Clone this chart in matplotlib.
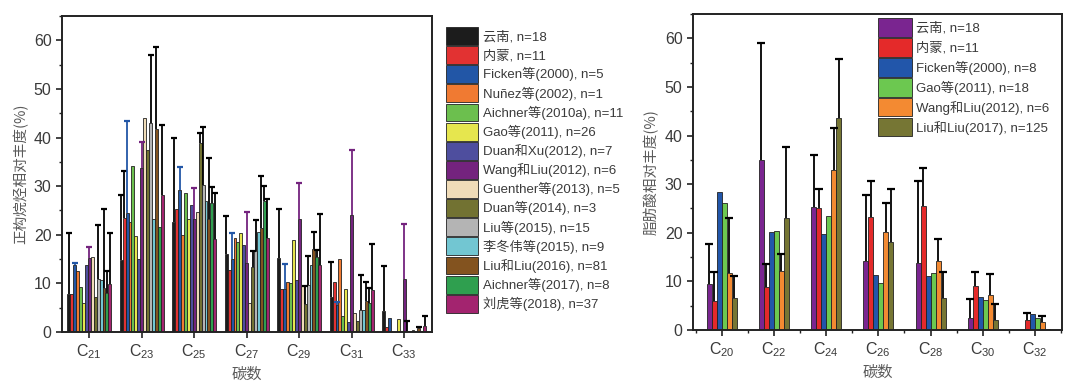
import numpy as np
import matplotlib
matplotlib.use("Agg")
import matplotlib.pyplot as plt
from matplotlib.ticker import MultipleLocator

plt.rcParams['font.family'] = ['Liberation Sans', 'Noto Sans CJK SC', 'DejaVu Sans']
plt.rcParams['mathtext.fontset'] = 'custom'
plt.rcParams['mathtext.rm'] = 'Liberation Sans'
plt.rcParams['mathtext.it'] = 'Liberation Sans:italic'

# ---------------- left panel: n-alkanes ----------------
alk_cats = ['C$_{21}$', 'C$_{23}$', 'C$_{25}$', 'C$_{27}$', 'C$_{29}$', 'C$_{31}$', 'C$_{33}$']
alk_series = ['云南, n=18', '内蒙, n=11', 'Ficken等(2000), n=5',
              'Nuñez等(2002), n=1', 'Aichner等(2010a), n=11', 'Gao等(2011), n=26',
              'Duan和Xu(2012), n=7', 'Wang和Liu(2012), n=6', 'Guenther等(2013), n=5',
              'Duan等(2014), n=3', 'Liu等(2015), n=15', '李冬伟等(2015), n=9',
              'Liu和Liu(2016), n=81', 'Aichner等(2017), n=8', '刘虎等(2018), n=37']
alk_colors = ['#1c1c1c', '#e23232', '#2256a6', '#f07a32', '#6cbf4e', '#e6e64e', '#4e4e9e',
              '#74237e', '#f0dcb8', '#727232', '#b4b4b4', '#72c6d2', '#83531f', '#2f9f4f', '#a3246f']
alk_err_colors = ['k', 'k', '#2256a6', 'k', 'k', 'k', 'k', '#74237e', 'k', 'k', 'k', 'k', 'k', 'k', 'k']

# values per series across C21..C33
alk_yunnan   = [7.8, 14.8, 22.6, 16.1, 15.2, 7.3, 4.3]
alk_neimeng  = [7.8, 23.5, 25.4, 12.8, 8.8, 10.3, 1.0]
alk_ficken   = [13.8, 24.5, 29.2, 15.0, 8.9, 5.6, 2.8]
alk_nunez    = [12.6, 22.6, 20.0, 19.4, 10.3, 15.1, 0.0]
alk_aich10   = [9.3, 34.2, 28.5, 18.6, 10.0, 3.2, 0.0]
alk_gao      = [6.0, 19.8, 23.3, 20.3, 19.0, 8.8, 2.6]
alk_duanxu   = [13.8, 15.1, 26.2, 17.8, 10.6, 2.0, 0.0]
alk_wangliu  = [15.2, 33.8, 23.3, 14.1, 23.3, 24.1, 10.8]
alk_guenther = [15.5, 44.1, 24.6, 5.9, 9.5, 4.0, 0.3]
alk_duan14   = [7.2, 37.5, 38.8, 13.3, 5.7, 2.2, 0.3]
alk_liu15    = [11.0, 43.0, 30.3, 16.6, 9.7, 4.5, 0.5]
alk_li15     = [10.7, 23.2, 27.0, 20.5, 13.7, 4.5, 0.2]
alk_liuliu16 = [9.0, 41.8, 23.3, 21.4, 17.1, 6.3, 0.8]
alk_aich17   = [8.0, 21.5, 26.5, 27.0, 15.5, 5.9, 0.3]
alk_liuhu    = [9.9, 28.1, 19.2, 19.4, 13.8, 8.6, 1.2]

# upper ends of error bars (0 = no error bar)
alk_yunnan_top   = [20.3, 28.1, 39.9, 23.8, 25.4, 14.4, 13.6]
alk_neimeng_top  = [0, 33.1, 0, 0, 0, 0, 0]
alk_ficken_top   = [14.2, 43.4, 34.0, 20.4, 14.0, 6.2, 0]
alk_nunez_top    = [0, 0, 0, 0, 0, 0, 0]
alk_aich10_top   = [0, 0, 0, 0, 0, 0, 0]
alk_gao_top      = [0, 0, 0, 0, 0, 0, 0]
alk_duanxu_top   = [0, 0, 0, 0, 0, 0, 0]
alk_wangliu_top  = [17.5, 39.1, 29.6, 24.6, 30.6, 37.4, 22.2]
alk_guenther_top = [0, 0, 0, 0, 0, 0, 2.2]
alk_duan14_top   = [0, 0, 41.0, 16.7, 9.5, 0, 0]
alk_liu15_top    = [22.0, 57.0, 42.1, 23.0, 15.6, 11.7, 0]
alk_li15_top     = [0, 0, 0, 0, 0, 0, 0]
alk_liuliu16_top = [25.3, 58.6, 35.7, 32.0, 20.6, 10.2, 1.0]
alk_aich17_top   = [12.5, 0, 29.8, 30.1, 16.8, 9.0, 0]
alk_liuhu_top    = [20.3, 42.5, 28.5, 27.4, 24.2, 18.2, 3.2]

alk_vals = [alk_yunnan, alk_neimeng, alk_ficken, alk_nunez, alk_aich10, alk_gao, alk_duanxu,
            alk_wangliu, alk_guenther, alk_duan14, alk_liu15, alk_li15, alk_liuliu16, alk_aich17, alk_liuhu]
alk_tops = [alk_yunnan_top, alk_neimeng_top, alk_ficken_top, alk_nunez_top, alk_aich10_top, alk_gao_top,
            alk_duanxu_top, alk_wangliu_top, alk_guenther_top, alk_duan14_top, alk_liu15_top, alk_li15_top,
            alk_liuliu16_top, alk_aich17_top, alk_liuhu_top]

# ---------------- right panel: fatty acids ----------------
fa_cats = ['C$_{20}$', 'C$_{22}$', 'C$_{24}$', 'C$_{26}$', 'C$_{28}$', 'C$_{30}$', 'C$_{32}$']
fa_series = ['云南, n=18', '内蒙, n=11', 'Ficken等(2000), n=8',
             'Gao等(2011), n=18', 'Wang和Liu(2012), n=6', 'Liu和Liu(2017), n=125']
fa_colors = ['#7a2590', '#e42a2a', '#2256aa', '#6cc850', '#f38a32', '#767634']

fa_yunnan  = [9.4, 35.0, 25.2, 14.2, 13.7, 2.5, 0.0]
fa_neimeng = [6.0, 8.9, 25.0, 23.3, 25.6, 9.1, 2.1]
fa_ficken  = [28.3, 20.1, 19.7, 11.3, 11.2, 6.7, 3.3]
fa_gao     = [26.1, 20.4, 23.5, 9.6, 11.7, 6.2, 2.4]
fa_wang    = [11.8, 12.1, 32.9, 20.2, 14.1, 7.2, 1.7]
fa_liuliu  = [6.5, 23.1, 43.7, 18.0, 6.5, 2.1, 0.2]

fa_yunnan_top  = [17.6, 59.0, 35.9, 27.7, 30.7, 6.4, 0]
fa_neimeng_top = [11.9, 13.5, 28.9, 30.7, 33.3, 12.0, 3.4]
fa_ficken_top  = [0, 0, 0, 0, 0, 0, 0]
fa_gao_top     = [0, 0, 0, 0, 0, 0, 0]
fa_wang_top    = [23.0, 15.6, 41.6, 26.2, 18.7, 11.5, 2.9]
fa_liuliu_top  = [11.2, 37.7, 55.7, 29.1, 11.9, 5.4, 0]

fa_vals = [fa_yunnan, fa_neimeng, fa_ficken, fa_gao, fa_wang, fa_liuliu]
fa_tops = [fa_yunnan_top, fa_neimeng_top, fa_ficken_top, fa_gao_top, fa_wang_top, fa_liuliu_top]

TXT = '#3a3a3a'
LBL = '#5a5a5a'

fig = plt.figure(figsize=(10.8, 3.86), dpi=100)
axL = fig.add_axes([0.0574, 0.1399, 0.3426, 0.8187])
axR = fig.add_axes([0.6417, 0.1451, 0.3417, 0.8187])


def draw(ax, cats, names, colors, vals, tops, width, err_colors, cap):
    x = np.arange(len(cats))
    n = len(names)
    handles = []
    for i in range(n):
        xi = x + (i - (n - 1) / 2) * width
        v = np.array(vals[i], dtype=float)
        t = np.array(tops[i], dtype=float)
        h = ax.bar(xi, v, width=width, color=colors[i], edgecolor='#222222', linewidth=0.6,
                   label=names[i], zorder=2)
        handles.append(h)
        m = t > v
        if m.any():
            e = t[m] - v[m]
            _, caps, _ = ax.errorbar(xi[m], v[m], yerr=[np.zeros_like(e), e], fmt='none',
                                     ecolor=err_colors[i], elinewidth=1.3, capsize=cap,
                                     capthick=1.6, zorder=3)
            if len(caps) >= 2:
                caps[0].set_visible(False)
    ax.set_xticks(x)
    ax.set_xticklabels(cats)
    ax.set_ylim(0, 65)
    ax.yaxis.set_major_locator(MultipleLocator(10))
    ax.yaxis.set_minor_locator(MultipleLocator(5))
    ax.tick_params(axis='both', which='major', direction='out', length=4, width=1.2,
                   labelsize=11.5, colors='#222222', labelcolor=TXT)
    ax.tick_params(axis='both', which='minor', direction='out', length=2.5, width=1.0, colors='#222222')
    for s in ax.spines.values():
        s.set_linewidth(1.4)
        s.set_color('#222222')
    ax.set_xlabel('碳数', fontsize=11, color=LBL, family=['Noto Sans CJK SC'], labelpad=3)
    return handles


hL = draw(axL, alk_cats, alk_series, alk_colors, alk_vals, alk_tops, 0.056, alk_err_colors, 2.5)
axL.set_xlim(-0.52, 6.53)
axL.set_ylabel('正构烷烃相对丰度(%)', fontsize=10.5, color=LBL, family=['Noto Sans CJK SC'], labelpad=4)
axL.legend(handles=hL, loc='upper left', bbox_to_anchor=(1.038, 0.965), frameon=False,
           fontsize=9.5, handlelength=2.42, handleheight=1.7, labelspacing=0.1,
           handletextpad=0.35, borderaxespad=0, borderpad=0, labelcolor=TXT)

hR = draw(axR, fa_cats, fa_series, fa_colors, fa_vals, fa_tops, 0.096, ['k'] * 6, 3)
axR.set_xlim(-0.55, 6.52)
axR.xaxis.set_minor_locator(MultipleLocator(0.5))
axR.set_ylabel('脂肪酸相对丰度(%)', fontsize=10.5, color=LBL, family=['Noto Sans CJK SC'], labelpad=4)
axR.legend(handles=hR, loc='upper left', bbox_to_anchor=(0.501, 0.986), frameon=False,
           fontsize=9.5, handlelength=2.58, handleheight=1.75, labelspacing=0.13,
           handletextpad=0.3, borderaxespad=0, borderpad=0, labelcolor=TXT)

fig.savefig('out.png', dpi=100)
